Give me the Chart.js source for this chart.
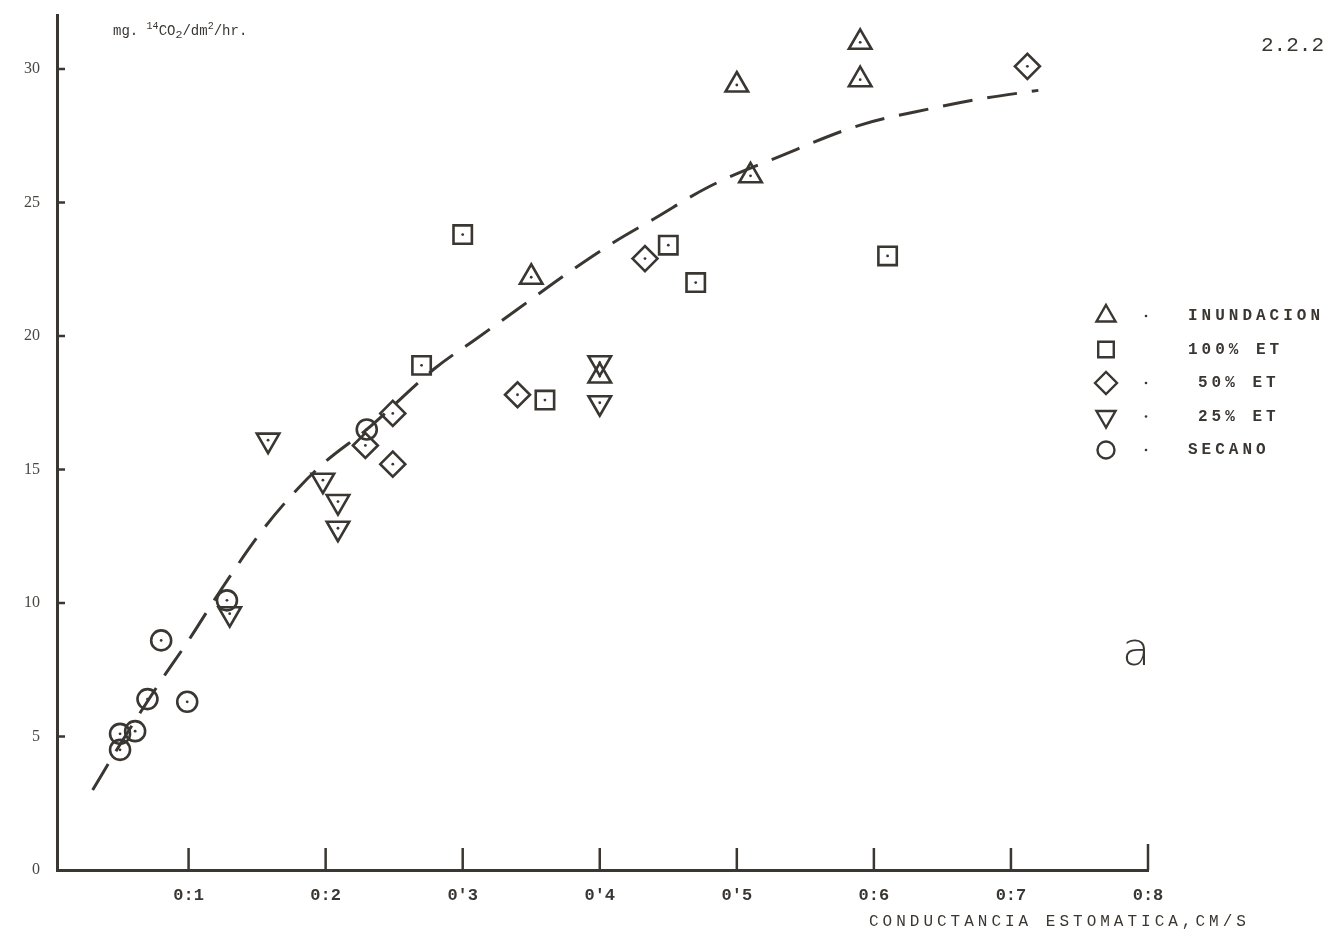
<!DOCTYPE html>
<html>
<head>
<meta charset="utf-8">
<script src="https://cdn.jsdelivr.net/npm/chart.js@4.4.1/dist/chart.umd.min.js"></script>
<style>
  body { margin: 0; background: #fff; overflow: hidden; }
  #wrap { position: relative; width: 1331px; height: 938px; }
  .txt { position: absolute; font-family: "Liberation Mono", "DejaVu Sans Mono", monospace; color: #3a3632; white-space: nowrap; }
  .legtxt { position: absolute; font-family: "Liberation Mono", monospace; font-size: 16px; font-weight: bold; color: #3a3632; line-height: 16px; letter-spacing: 4px; }
</style>
</head>
<body>
<div id="wrap">
  <canvas id="grafico" width="1331" height="938"></canvas>

  <div class="txt" style="left:113px; top:21px; font-size:14px;">mg. <sup style="font-size:10px">14</sup>CO<sub>2</sub>/dm<sup style="font-size:10px">2</sup>/hr.</div>
  <div class="txt" style="left:1261px; top:34px; font-size:21px;">2.2.2</div>
  <div class="txt" style="left:1122px; top:622px; font-size:46px; font-family:'DejaVu Sans', sans-serif; font-weight:300;">a</div>
  <div class="txt" style="left:869px; top:913px; font-size:16px; letter-spacing:4px;">CONDUCTANCIA ESTOMATICA,CM/S</div>

  <div class="legtxt" style="left:1188px; top:308px;">INUNDACION</div>
  <div class="legtxt" style="left:1188px; top:342px;">100% ET</div>
  <div class="legtxt" style="left:1198px; top:375px;">50% ET</div>
  <div class="legtxt" style="left:1198px; top:409px;">25% ET</div>
  <div class="legtxt" style="left:1188px; top:442px;">SECANO</div>
</div>

<script>
// valores (conductancia, fotosintese)
let inundacionX = [0.59, 0.59, 0.50, 0.51, 0.35, 0.40];
let inundacionY = [31.0, 29.6, 29.4, 26.0, 22.2, 18.5];

let et100X = [0.30, 0.45, 0.47, 0.61, 0.27, 0.36];
let et100Y = [23.8, 23.4, 22.0, 23.0, 18.9, 17.6];

let et50X = [0.712, 0.433, 0.34, 0.249, 0.249, 0.229];
let et50Y = [30.1, 22.9, 17.8, 17.1, 15.2, 15.9];

let et25X = [0.158, 0.198, 0.209, 0.209, 0.130, 0.40, 0.40];
let et25Y = [16.1, 14.6, 13.8, 12.8, 9.6, 19.0, 17.5];

let secanoX = [0.230, 0.128, 0.080, 0.070, 0.099, 0.050, 0.061, 0.050];
let secanoY = [16.5, 10.1, 8.6, 6.4, 6.3, 5.1, 5.2, 4.5];

// curva ajustada (tracejada)
let curvaX = [0.03, 0.05, 0.08, 0.10, 0.125, 0.155, 0.18, 0.20, 0.23, 0.28, 0.31, 0.34, 0.375, 0.41, 0.44, 0.48, 0.53, 0.59, 0.64, 0.68, 0.72];
let curvaY = [3.0, 4.7, 7.1, 8.6, 10.6, 12.8, 14.3, 15.3, 16.5, 18.8, 19.9, 21.0, 22.3, 23.5, 24.4, 25.6, 26.7, 27.9, 28.5, 28.9, 29.2];

let xTicks = [0.1, 0.2, 0.3, 0.4, 0.5, 0.6, 0.7, 0.8];
let xLabels = ["0:1", "0:2", "0'3", "0'4", "0'5", "0:6", "0:7", "0:8"];
let yTicks = [0, 5, 10, 15, 20, 25, 30];

const tinta = '#3a3632';

function pontos(xs, ys) {
    return xs.map((x, i) => ({ x: x, y: ys[i] }));
}

function serie(nome, xs, ys, estilo, raio, rot) {
    return {
        label: nome,
        data: pontos(xs, ys),
        showLine: false,
        pointStyle: estilo,
        rotation: rot || 0,
        pointRadius: raio,
        pointHoverRadius: raio,
        pointBorderWidth: 2.6,
        pointBorderColor: tinta,
        pointBackgroundColor: 'rgba(255,255,255,0)',
        comPonto: true
    };
}

// marcas internas dos eixos, pontinho no centro dos simbolos e simbolos da legenda
const extras = {
    id: 'extras',
    afterDatasetsDraw(chart) {
        const ctx = chart.ctx;
        const xs = chart.scales.x, ys = chart.scales.y;
        ctx.save();
        ctx.strokeStyle = tinta;
        ctx.lineWidth = 2.5;
        xTicks.forEach(v => {
            const px = xs.getPixelForValue(v);
            ctx.beginPath();
            ctx.moveTo(px, ys.bottom);
            ctx.lineTo(px, ys.bottom - (v === 0.8 ? 26 : 22));
            ctx.stroke();
        });
        yTicks.forEach(v => {
            if (v === 0) return;
            const py = ys.getPixelForValue(v);
            ctx.beginPath();
            ctx.moveTo(xs.left, py);
            ctx.lineTo(xs.left + 8, py);
            ctx.stroke();
        });
        ctx.fillStyle = tinta;
        chart.data.datasets.forEach((ds, i) => {
            if (!ds.comPonto) return;
            chart.getDatasetMeta(i).data.forEach(el => {
                ctx.beginPath();
                ctx.arc(el.x, el.y, 1.4, 0, Math.PI * 2);
                ctx.fill();
            });
        });

        // legenda
        const series = chart.data.datasets.filter(ds => ds.comPonto);
        series.forEach((ds, k) => {
            const cy = 316 + k * 33.5;
            ctx.fillStyle = 'rgba(0,0,0,0)';
            ctx.strokeStyle = tinta;
            ctx.lineWidth = 2.4;
            if (Chart.helpers && Chart.helpers.drawPoint) {
                Chart.helpers.drawPoint(ctx, {
                    pointStyle: ds.pointStyle,
                    rotation: ds.rotation,
                    radius: ds.pointStyle === 'circle' ? 8.5 : 11,
                    borderWidth: 2.4
                }, 1106, cy);
            }
            if (k !== 1) {
                ctx.fillStyle = tinta;
                ctx.beginPath();
                ctx.arc(1146, cy, 1.3, 0, Math.PI * 2);
                ctx.fill();
            }
        });
        ctx.restore();
    }
};

function criarGrafico() {
    let ctx = document.getElementById('grafico').getContext('2d');
    new Chart(ctx, {
        type: 'scatter',
        data: {
            datasets: [
                {
                    label: 'curva',
                    data: pontos(curvaX, curvaY),
                    showLine: true,
                    borderColor: tinta,
                    borderWidth: 3,
                    borderDash: [30, 15],
                    pointRadius: 0,
                    cubicInterpolationMode: 'monotone',
                    fill: false
                },
                serie('INUNDACION', inundacionX, inundacionY, 'triangle', 13, 0),
                serie('100% ET', et100X, et100Y, 'rect', 13, 0),
                serie('50% ET', et50X, et50Y, 'rectRot', 12.5, 0),
                serie('25% ET', et25X, et25Y, 'triangle', 13, 180),
                serie('SECANO', secanoX, secanoY, 'circle', 10, 0)
            ]
        },
        options: {
            responsive: false,
            animation: false,
            layout: { padding: { top: 10, right: 183, bottom: 0, left: 0 } },
            plugins: {
                legend: { display: false },
                tooltip: { enabled: false }
            },
            scales: {
                x: {
                    type: 'linear',
                    min: 0.004,
                    max: 0.8,
                    afterBuildTicks: s => { s.ticks = xTicks.map(v => ({ value: v })); },
                    afterFit: s => { s.height = 68; s.paddingLeft = 0; s.paddingRight = 0; },
                    grid: { display: false, drawTicks: false },
                    border: { display: true, color: tinta, width: 3 },
                    ticks: {
                        padding: 16,
                        color: tinta,
                        font: { family: 'Liberation Mono', size: 17, weight: 'bold' },
                        callback: (v, i) => xLabels[i]
                    }
                },
                y: {
                    min: 0,
                    max: 32,
                    afterBuildTicks: s => { s.ticks = yTicks.map(v => ({ value: v })); },
                    afterFit: s => { s.width = 57; s.paddingTop = 0; s.paddingBottom = 0; },
                    grid: { display: false, drawTicks: false },
                    border: { display: true, color: tinta, width: 3 },
                    ticks: {
                        padding: 17,
                        color: '#4a4642',
                        font: { family: 'Liberation Serif', size: 16 }
                    }
                }
            }
        },
        plugins: [extras]
    });
}

document.addEventListener("DOMContentLoaded", criarGrafico);
</script>
</body>
</html>
